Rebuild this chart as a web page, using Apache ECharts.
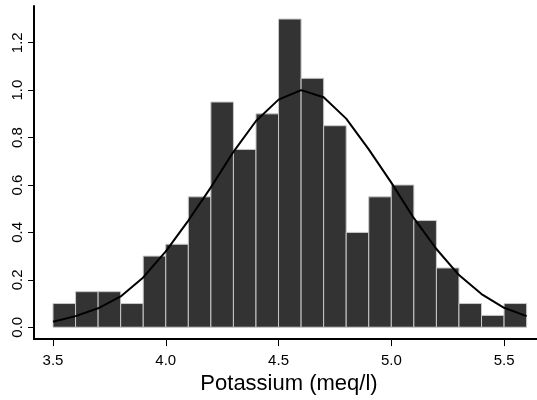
<!DOCTYPE html>
<html>
<head>
<meta charset="utf-8">
<script src="https://cdn.jsdelivr.net/npm/echarts@6/dist/echarts.min.js"></script>
<style>html,body{margin:0;padding:0;background:#fff}#c{width:537px;height:400px}</style>
</head>
<body>
<div id="c"></div>
<script>
// Histogram bins (left edges), bin width, and density heights
const binLeft = [3.5,3.6,3.7,3.8,3.9,4.0,4.1,4.2,4.3,4.4,4.5,4.6,4.7,4.8,4.9,5.0,5.1,5.2,5.3,5.4,5.5];
const binWidth = 0.1;
const density = [0.10,0.15,0.15,0.10,0.30,0.35,0.55,0.95,0.75,0.90,1.30,1.05,0.85,0.40,0.55,0.60,0.45,0.25,0.10,0.05,0.10];
// Fitted normal curve
const curveX = [3.5,3.6,3.7,3.8,3.9,4.0,4.1,4.2,4.3,4.4,4.5,4.6,4.7,4.8,4.9,5.0,5.1,5.2,5.3,5.4,5.5,5.6];
const curveY = [0.023,0.047,0.08,0.13,0.21,0.32,0.45,0.59,0.74,0.87,0.96,1.00,0.97,0.88,0.75,0.61,0.46,0.33,0.22,0.14,0.082,0.047];
// Tick labels
const xTicks = [3.5,4.0,4.5,5.0,5.5];
const yTicks = [0.0,0.2,0.4,0.6,0.8,1.0,1.2];
const xTitle = 'Potassium (meq/l)';

const chart = echarts.init(document.getElementById('c'), null, {renderer:'canvas'});
const font = 'Liberation Sans, Arial, Helvetica, sans-serif';
const bars = binLeft.map((x,i)=>[x, x+binWidth, density[i]]);
chart.setOption({
  animation:false,
  backgroundColor:'#fff',
  grid:{left:34, right:0, top:6, bottom:57},
  xAxis:{
    type:'value', min:3.4157, max:5.646,
    splitLine:{show:false},
    axisLine:{onZero:false, lineStyle:{color:'#000', width:2}},
    axisTick:{customValues:xTicks, length:7, lineStyle:{color:'#000', width:1}},
    axisLabel:{customValues:xTicks, margin:14, color:'#000', fontSize:15, fontFamily:font,
      formatter:v=>v.toFixed(1)},
    name:xTitle, nameLocation:'middle', nameGap:31,
    nameTextStyle:{color:'#000', fontSize:22, fontFamily:font, padding:[0,0,0,7]}
  },
  yAxis:{
    type:'value', min:-0.05, max:1.355,
    splitLine:{show:false},
    axisLine:{onZero:false, lineStyle:{color:'#000', width:2}},
    axisTick:{customValues:yTicks, length:6, lineStyle:{color:'#000', width:1}},
    axisLabel:{customValues:yTicks, rotate:90, margin:9, color:'#000', fontSize:15, fontFamily:font,
      formatter:v=>v.toFixed(1)}
  },
  series:[
    {
      type:'custom',
      data:bars,
      encode:{x:[0,1], y:2},
      renderItem:(params, api)=>{
        const p0 = api.coord([api.value(0), 0]);
        const p1 = api.coord([api.value(1), api.value(2)]);
        return {
          type:'rect',
          shape:{x:p0[0], y:p1[1], width:p1[0]-p0[0], height:p0[1]-p1[1]},
          style:{fill:'#333333', stroke:'#c8c8c8', lineWidth:1}
        };
      },
      z:1
    },
    {
      type:'line',
      data:curveX.map((x,i)=>[x, curveY[i]]),
      symbol:'none', smooth:false,
      lineStyle:{color:'#000', width:2},
      z:3
    }
  ]
});
</script>
</body>
</html>
